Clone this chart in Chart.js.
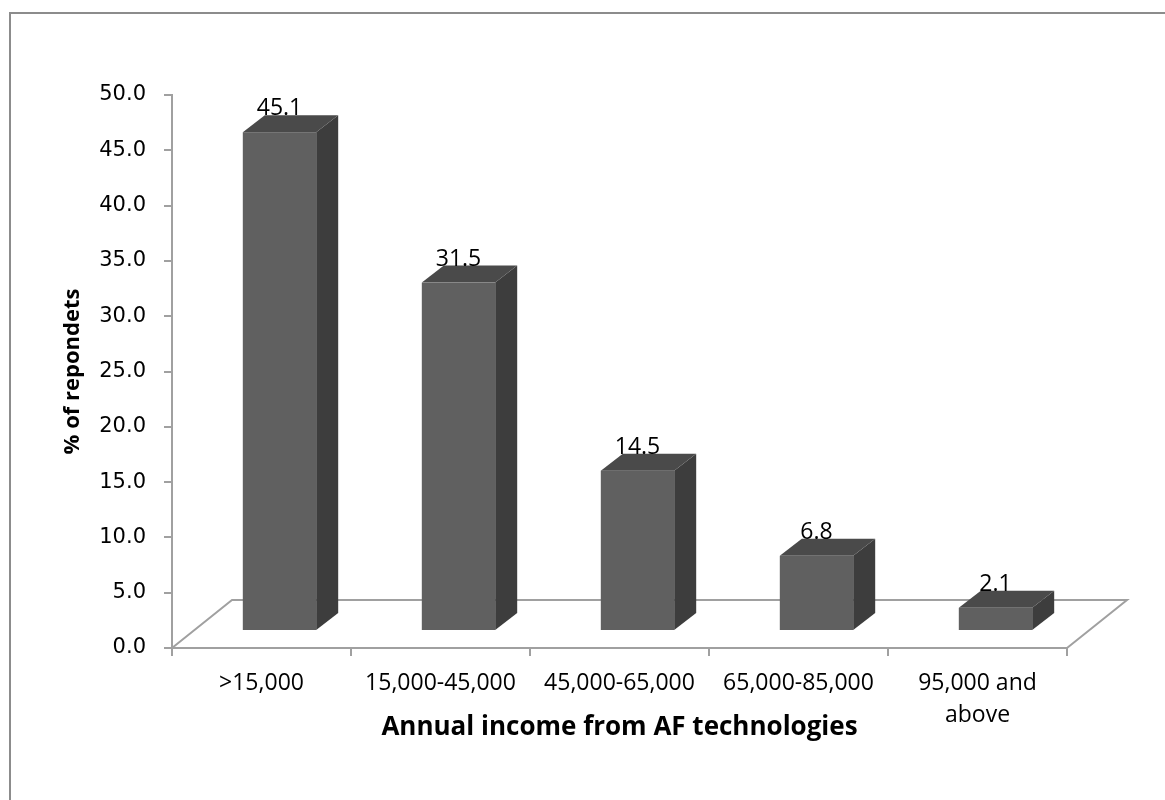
<!DOCTYPE html>
<html>
<head>
<meta charset="utf-8">
<script src="https://cdn.jsdelivr.net/npm/chart.js@4.4.1/dist/chart.umd.min.js"></script>
<style>
  html, body { margin: 0; padding: 0; background: #fff; }
  body { width: 1165px; height: 800px; position: relative; overflow: hidden; }
  #frame {
    position: absolute; left: 9px; top: 12px; width: 1200px; height: 850px;
    border-left: 2px solid #8c8c8c; border-top: 2px solid #8c8c8c;
  }
  #wrap { position: absolute; left: 0; top: 0; width: 1165px; height: 800px; }
</style>
</head>
<body>
<div id="frame"></div>
<div id="wrap"><canvas id="chart" width="1165" height="800"></canvas></div>
<script>
// Data
const categories = ['>15,000', '15,000-45,000', '45,000-65,000', '65,000-85,000', ['95,000 and', 'above']];
const respondents = [45.1, 31.5, 14.5, 6.8, 2.1];
const yTitle = '% of repondets';
const xTitle = 'Annual income from AF technologies';

// 3D look
const FRONT = '#606060';
const TOP = '#4a4a4a';
const SIDE = '#3d3d3d';
const AXIS = '#a0a0a0';
const SHIFT_X = 18, SHIFT_Y = 17;   // bar front face sits mid-depth
const DEPTH_X = 22, DEPTH_Y = 17;   // bar depth
const FLOOR_X = 60, FLOOR_Y = 48;   // floor depth

const floorPlugin = {
  id: 'floor3d',
  beforeDatasetsDraw(chart) {
    const { ctx, chartArea: a } = chart;
    ctx.save();
    ctx.strokeStyle = AXIS;
    ctx.lineWidth = 2;
    ctx.beginPath();
    ctx.moveTo(a.left, a.bottom);
    ctx.lineTo(a.left + FLOOR_X, a.bottom - FLOOR_Y);
    ctx.lineTo(a.right + FLOOR_X, a.bottom - FLOOR_Y);
    ctx.lineTo(a.right, a.bottom);
    ctx.stroke();
    ctx.restore();
  }
};

const barsPlugin = {
  id: 'bars3d',
  afterDatasetsDraw(chart) {
    const { ctx } = chart;
    const meta = chart.getDatasetMeta(0);
    ctx.save();
    meta.data.forEach((bar, i) => {
      const { x, y, base, width } = bar.getProps(['x', 'y', 'base', 'width'], true);
      const L = x - width / 2 + SHIFT_X;
      const R = x + width / 2 + SHIFT_X;
      const T = y - SHIFT_Y;
      const B = base - SHIFT_Y;

      // side
      ctx.fillStyle = SIDE;
      ctx.beginPath();
      ctx.moveTo(R, T);
      ctx.lineTo(R + DEPTH_X, T - DEPTH_Y);
      ctx.lineTo(R + DEPTH_X, B - DEPTH_Y);
      ctx.lineTo(R, B);
      ctx.closePath();
      ctx.fill();

      // top
      ctx.fillStyle = TOP;
      ctx.beginPath();
      ctx.moveTo(L, T);
      ctx.lineTo(L + DEPTH_X, T - DEPTH_Y);
      ctx.lineTo(R + DEPTH_X, T - DEPTH_Y);
      ctx.lineTo(R, T);
      ctx.closePath();
      ctx.fill();

      // front
      ctx.fillStyle = FRONT;
      ctx.fillRect(L, T, R - L, B - T);

      // value label
      ctx.fillStyle = '#000';
      ctx.font = '23px "Open Sans"';
      ctx.textAlign = 'center';
      ctx.textBaseline = 'alphabetic';
      ctx.fillText(respondents[i].toFixed(1), (L + R) / 2, T - DEPTH_Y);
    });
    ctx.restore();
  }
};

new Chart(document.getElementById('chart'), {
  type: 'bar',
  data: {
    labels: categories,
    datasets: [{
      data: respondents,
      backgroundColor: 'rgba(0,0,0,0)',
      borderWidth: 0,
      categoryPercentage: 1,
      barPercentage: 0.41
    }]
  },
  options: {
    responsive: false,
    animation: false,
    devicePixelRatio: 1,
    layout: { padding: { left: 60, top: 95, right: 98, bottom: 57 } },
    plugins: { legend: { display: false }, tooltip: { enabled: false } },
    scales: {
      y: {
        min: 0,
        max: 50,
        afterFit: s => { s.width = 112; },
        ticks: {
          stepSize: 5,
          padding: 18,
          color: '#000',
          font: { family: '"DejaVu Sans"', size: 21 },
          callback: v => v.toFixed(1)
        },
        grid: { drawOnChartArea: false, tickLength: 8, color: AXIS, lineWidth: 2 },
        border: { color: AXIS, width: 2 },
        title: {
          display: true,
          text: yTitle,
          color: '#000',
          padding: 0,
          font: { family: '"Open Sans"', size: 22, weight: 'bold', lineHeight: 1.2 }
        }
      },
      x: {
        afterFit: s => { s.height = 95; },
        ticks: {
          padding: 11,
          maxRotation: 0,
          autoSkip: false,
          color: '#000',
          font: { family: '"Open Sans"', size: 23, lineHeight: 1.4 }
        },
        grid: { drawOnChartArea: false, tickLength: 8, color: AXIS, lineWidth: 2 },
        border: { color: AXIS, width: 2 },
        title: {
          display: true,
          text: xTitle,
          color: '#000',
          padding: 0,
          font: { family: '"Open Sans"', size: 26, weight: 'bold', lineHeight: 1.2 }
        }
      }
    }
  },
  plugins: [floorPlugin, barsPlugin]
});
</script>
</body>
</html>
